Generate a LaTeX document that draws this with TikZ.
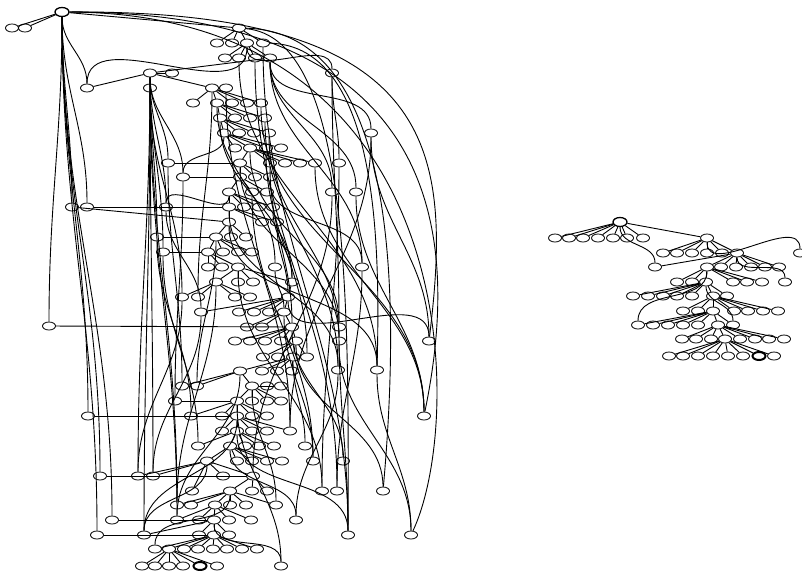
\documentclass[tikz,border=0pt]{standalone}
\usetikzlibrary{shapes.geometric}

\begin{document}
\begin{tikzpicture}[x=1pt, y=-1pt,
  nd/.style={ellipse, draw, line width=0.8pt, minimum width=13pt, minimum height=8pt, inner sep=0pt},
  rootnode/.style={nd, minimum width=14pt, minimum height=9pt, line width=1.3pt},
  goal/.style={nd, line width=2pt},
  link/.style={line width=0.9pt},
  curvy/.style={link, out=-90, in=90}
]
\useasboundingbox (0,0) rectangle (802,570);

% left search tree
\node[rootnode] (root) at (62,12) {};
\foreach \n/\x/\y in {ta/12/28, tb/25/28, A/239/28,
  b1/217/43, b2/232/43, b3/247/43, b4/263/43,
  c1/225/58, c2/239/58, c3/255/58, c4/270/58,
  d1/150/73, d2/172/73, d3/332/73,
  e1/87/88, e2/150/88, e3/212/88, e4/226/88,
  f1/193/103, f2/217/103, f3/232/103, f4/247/103, f5/261/103,
  g1/220/118, g2/235/118, g3/250/118, g4/265/118,
  h1/224/133, h2/239/133, h3/254/133, h4/269/133, h5/371/133,
  i1/235/148, i2/250/148, i3/266/148, i4/281/148,
  j1/168/163, j2/240/163, j3/270/163, j4/285/163, j5/300/163, j6/315/163, j7/339/163,
  k1/183/177, k2/240/177, k3/255/177, k4/270/177,
  l1/229/192, l2/252/192, l3/267/192, l4/332/192, l5/356/192,
  m1/72/207, m2/87/207, m3/166/207, m4/229/207, m5/244/207, m6/259/207, m7/273/207,
  n1/229/222, n2/262/222, n3/277/222,
  o1/157/237, o2/216/237, o3/231/237, o4/246/237,
  p1/163/252, p2/208/252, p3/223/252, p4/238/252, p5/252/252,
  q1/208/267, q2/222/267, q3/238/267, q4/275/267, q5/362/267,
  s1/216/282, s2/238/282, s3/253/282, s4/292/282,
  u1/182/297, u2/198/297, u3/235/297, u4/250/297, u5/288/297,
  v1/201/312, v2/239/312, v3/254/312, v4/269/312, v5/284/312,
  w1/49/326, w2/247/327, w3/262/327, w4/292/327, w5/339/327,
  x1/235/341, x2/250/341, x3/265/341, x4/281/341, x5/296/341, x6/339/341, x7/429/341,
  y1/263/357, y2/278/357, y3/293/357, y4/307/357,
  z1/240/371, z2/262/371, z3/277/371, z4/292/371, z5/338/370, z6/377/370,
  aa1/182/386, aa2/197/386, aa3/252/386, aa4/267/386, aa5/281/386,
  ab1/175/401, ab2/237/401, ab3/252/401, ab4/267/401, ab5/281/401,
  ac1/88/416, ac2/191/416, ac3/222/416, ac4/237/416, ac5/252/416, ac6/267/416, ac7/424/416,
  ad1/222/431, ad2/237/431, ad3/252/431, ad4/267/431, ad5/290/431,
  ae1/198/446, ae2/230/446, ae3/245/446, ae4/259/446, ae5/274/446, ae6/305/446,
  af1/207/461, af2/237/461, af3/252/461, af4/267/461, af5/282/461, af6/313/461, af7/343/461,
  ag1/100/476, ag2/138/476, ag3/153/476, ag4/223/476, ag5/253/476,
  ah1/192/491, ah2/230/491, ah3/252/491, ah4/267/491, ah5/322/491, ah6/337/491, ah7/383/491,
  ai1/177/505, ai2/191/505, ai3/215/505, ai4/230/505, ai5/246/505, ai6/276/505,
  aj1/112/520, aj2/177/520, aj3/199/520, aj4/214/520, aj5/229/520, aj6/251/520, aj7/296/520,
  ak1/97/535, ak2/144/535, ak3/199/535, ak4/214/535, ak5/229/535, ak6/348/535, ak7/411/535,
  al1/155/549, al2/169/549, al3/184/549, al4/198/549, al5/213/549, al6/227/549, al7/242/549, al8/257/549,
  am1/142/566, am2/155/566, am3/169/566, am4/183/566, am6/217/566, am7/281/566}
  \node[nd] (\n) at (\x,\y) {};
\node[goal] (am5) at (200,566) {};

% right search tree
\node[rootnode] (R) at (620,222) {};
\foreach \n/\x/\y in {ra1/555/238, ra2/569/238, ra3/583/238, ra4/598/238, ra5/613/238, ra6/627/238, ra7/643/238, rb/707/238,
  rc1/663/253, rc2/677/253, rc3/692/253, rc4/707/253, rc5/722/253, rc6/737/253, rc7/800/253,
  rd1/655/267, rd2/707/267, rd3/721/267, rd4/736/267, rd5/751/267, rd6/765/267, rd7/779/267,
  re1/677/282, re2/692/282, re3/706/282, re4/733/282, re5/747/282, re6/762/282, re7/785/282,
  rf1/633/296, rf2/648/296, rf3/663/296, rf4/677/296, rf5/692/296, rf6/713/296, rf7/727/296,
  rg1/683/311, rg2/698/311, rg3/713/311, rg4/734/311, rg5/748/311, rg6/763/311, rg7/778/311,
  rh1/638/325, rh2/653/325, rh3/668/325, rh4/683/325, rh5/698/325, rh6/718/325, rh7/733/325,
  ri1/682/339, ri2/696/339, ri3/711/339, ri4/725/339, ri5/740/339, ri6/755/339, ri7/769/339, ri8/784/339,
  rj1/669/356, rj2/683/356, rj3/698/356, rj4/713/356, rj5/728/356, rj6/743/356, rj8/774/356}
  \node[nd] (\n) at (\x,\y) {};
\node[goal] (rj7) at (759,356) {};

% parent -> children
\foreach \h/\cs in {root/{ta,tb,A}, A/{b1,b2,b3,b4}, b3/{c1,c2,c3,c4}, c4/{d1}, d1/{d2,e1,e2,e3},
  e3/{e4,f1,f2,f3,f4,f5}, f2/{g1,g2,g3,g4}, g1/{h1,h2,h3,h4}, h1/{i1,i2,i3,i4},
  i2/{j2,j3,j4,j5,j6}, j2/{j1,k2,k3,k4}, k2/{k1,l1,l2,l3}, l1/{m4,m5,m6,m7}, m4/{m2,n1,n2,n3},
  n1/{m1,o2,o3,o4}, o2/{o1,p2,p3,p4,p5}, p2/{p1,q1,q2,q3}, q3/{s1,s2,s3,s4}, s1/{u1,u2,u3,u4},
  s4/{u5}, u5/{v1,v2,v3,v4,v5}, v5/{w2,w3,w4}, w4/{w1,x1,x2,x3,x4,x5}, x5/{y1,y2,y3,y4},
  y3/{z1,z2,z3,z4}, z1/{aa1,aa2,aa3}, aa3/{aa4,aa5,ab2,ab3,ab4,ab5}, ab2/{ab1,ac2,ac3,ac4,ac5,ac6},
  ac4/{ac1,ad1,ad2,ad3,ad4,ad5}, ad2/{ae1,ae2,ae3,ae4,ae5}, ae2/{af1,af2,af3,af4,af5},
  af1/{ag2,ag3,ag4,ag5,ah1}, ag5/{ag1,ah2,ah3,ah4}, ah2/{ai1,ai2,ai3,ai4,ai5,ai6},
  ai3/{aj2,aj3,aj4,aj5,aj6}, aj4/{aj1,ak2,ak3,ak4,ak5}, ak4/{ak1,al1,al2,al3,al4,al5,al6,al7,al8},
  al2/{am1,am2,am3,am4,am5,am6},
  R/{ra1,ra2,ra3,ra4,ra5,ra6,ra7,rb}, rb/{rc1,rc2,rc3,rc4,rc5,rc6}, rc6/{rd1,rd2,rd3,rd4,rd5,rd6,rd7},
  rd2/{re1,re2,re3,re4,re5,re6}, re3/{rf1,rf2,rf3,rf4,rf5,rf6,rf7}, rf6/{rg1,rg2,rg3,rg4,rg5,rg6,rg7},
  rg3/{rh1,rh2,rh3,rh4,rh5,rh6,rh7}, rh6/{ri1,ri2,ri3,ri4,ri5,ri6,ri7,ri8},
  ri4/{rj1,rj2,rj3,rj4,rj5,rj6,rj7,rj8}}
  \foreach \c in \cs \draw[link] (\h) -- (\c);

% long edges across levels
\foreach \a/\b in {root/m1, root/m2, root/w1, root/ac1, root/ag1, root/aj1, root/ak1, root/e1,
  d1/ag2, d1/ag3, e2/aj2, d1/ai1, e2/ak2, b3/e1, b3/d3, c4/h5, d3/j7, c4/l4, c4/l5, c4/q5,
  d1/m3, d1/j1, d1/k1, d1/o1, d1/p1, e2/u1, e3/u2, f2/q4, g1/s4, h1/k1, i2/w5, j2/x6,
  j1/aa1, k1/ab1, l1/m3, m3/v1, m4/z5, n1/z6, o2/aa2, o1/ac2, p1/ae1, q3/ah5, q5/ah6,
  s1/ai1, u1/ag2, u5/x7, v1/ag3, v5/af6, w4/af7, w5/ak6, x5/ah7, x6/ak7, y3/ae6, z1/aj2,
  z5/aj7, z6/ak7, aa3/ai6, ab2/am7, ac4/ak2, ad2/ak6, ae2/aj7, af1/ak2, ah2/al1, l4/ag5,
  l5/ac7, h5/ad5, j7/ah5, d3/w5, k4/q5, m7/s4, n3/u5, q4/v5, j3/w4, i3/y4, h4/x6, g4/z5,
  f5/ac7, e4/ad5, c3/ah6, b4/ak6, c2/z6, h5/x7, j6/ac7, l2/af6, aj4/am7,
  R/rd1, rb/rc7, rc6/re7, rd2/rh1, re3/rh7}
  \draw[curvy] (\a) to (\b);

% edges routed round the right side
\draw[link] (root) .. controls (440,10) and (452,150) .. (x7);
\draw[link] (root) .. controls (455,12) and (458,250) .. (ac7);
\draw[link] (root) .. controls (465,14) and (465,420) .. (ak7);
\draw[link] (A) .. controls (400,32) and (400,300) .. (ah7);
\draw[link] (A) .. controls (350,38) and (349,300) .. (ak6);
\draw[link] (b4) .. controls (380,46) and (380,250) .. (z6);
\end{tikzpicture}
\end{document}
